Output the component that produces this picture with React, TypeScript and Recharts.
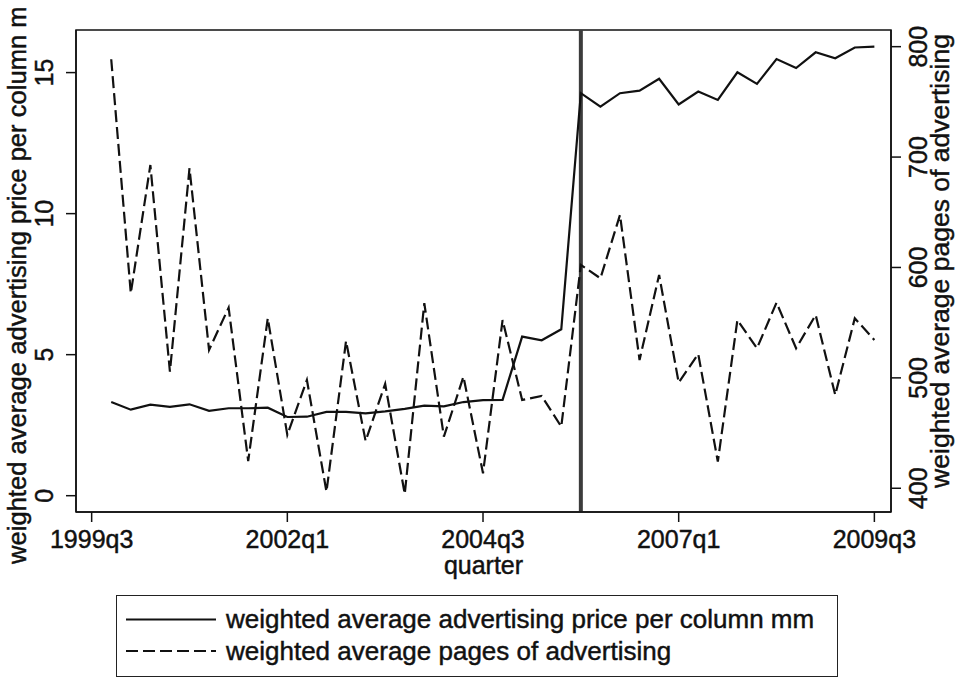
import React from 'react';
import { LineChart, Line, XAxis, YAxis, ReferenceLine, ReferenceArea, Legend, Label } from 'recharts';

const quarters = [
  '1999q4',
  '2000q1', '2000q2', '2000q3', '2000q4',
  '2001q1', '2001q2', '2001q3', '2001q4',
  '2002q1', '2002q2', '2002q3', '2002q4',
  '2003q1', '2003q2', '2003q3', '2003q4',
  '2004q1', '2004q2', '2004q3', '2004q4',
  '2005q1', '2005q2', '2005q3', '2005q4',
  '2006q1', '2006q2', '2006q3', '2006q4',
  '2007q1', '2007q2', '2007q3', '2007q4',
  '2008q1', '2008q2', '2008q3', '2008q4',
  '2009q1', '2009q2', '2009q3',
];

const priceValues = [
  3.32, 3.05, 3.23, 3.15, 3.24, 3.01, 3.1, 3.1, 3.12, 2.79,
  2.8, 2.97, 2.97, 2.92, 2.99, 3.08, 3.19, 3.17, 3.32, 3.39,
  3.4, 5.64, 5.51, 5.9, 14.27, 13.79, 14.27, 14.36, 14.78, 13.87,
  14.33, 14.03, 15.01, 14.6, 15.48, 15.16, 15.72, 15.51, 15.89, 15.92,
];

const pagesValues = [
  788.6, 576.6, 692.8, 505.6, 689.9, 525.3, 563.6, 424.7, 554.0, 448.3,
  498.1, 396.9, 533.4, 442.8, 494.5, 394.8, 567.6, 446.7, 501.1, 413.6,
  552.4, 480.0, 483.6, 455.8, 602.3, 590.2, 647.6, 516.2, 593.2, 495.7,
  521.6, 424.1, 552.4, 526.8, 568.1, 526.8, 557.0, 484.5, 554.0, 534.3,
];

const xTickLabels = ['1999q3', '2002q1', '2004q3', '2007q1', '2009q3'];
const leftTicks = [0, 5, 10, 15];
const rightTicks = [400, 500, 600, 700, 800];
const breakQuarter = '2005q4';

const priceName = 'weighted average advertising price per column mm';
const pagesName = 'weighted average pages of advertising';
// the left axis title as it is visible in the reference (clipped at the top edge)
const leftTitleVisible = 'weighted average advertising price per column m';

const qIndex = (s: string) => {
  const y = parseInt(s.slice(0, 4), 10);
  const q = parseInt(s.slice(5), 10);
  return (y - 1999) * 4 + q - 3;
};

const data = quarters.map((q, i) => ({
  t: qIndex(q),
  label: q,
  price: priceValues[i],
  pages: pagesValues[i],
}));

const xTicks = xTickLabels.map(qIndex);
const labelByIndex: Record<number, string> = {};
xTickLabels.forEach((l) => { labelByIndex[qIndex(l)] = l; });

const FONT = '"Liberation Sans", Arial, Helvetica, sans-serif';
const INK = '#111';
const TXT = { fontFamily: FONT, fill: INK, stroke: INK, strokeWidth: 0.45 };

const XTick = (props: any) => {
  const { x, y, payload } = props;
  return (
    <text x={x} y={y + 24} textAnchor="middle" fontSize={25} {...TXT}>
      {labelByIndex[payload.value] ?? payload.value}
    </text>
  );
};

const LeftTick = (props: any) => {
  const { x, y, payload } = props;
  const bx = x - 11;
  return (
    <text x={bx} y={y} transform={`rotate(-90, ${bx}, ${y})`} textAnchor="middle" fontSize={25} {...TXT}>
      {payload.value}
    </text>
  );
};

const RightTick = (props: any) => {
  const { x, y, payload } = props;
  const bx = x + 24;
  return (
    <text x={bx} y={y} transform={`rotate(-90, ${bx}, ${y})`} textAnchor="middle" fontSize={25} {...TXT}>
      {payload.value}
    </text>
  );
};

const XTitle = (props: any) => {
  const vb = props.viewBox || {};
  const cx = vb.x + vb.width / 2;
  return (
    <text x={cx} y={vb.y + 62} textAnchor="middle" fontSize={25} {...TXT}>
      quarter
    </text>
  );
};

const LeftTitle = (props: any) => {
  const vb = props.viewBox || {};
  const bx = vb.x + 26;
  const sy = vb.y + vb.height + 52;
  return (
    <text x={bx} y={sy} transform={`rotate(-90, ${bx}, ${sy})`} textAnchor="start" fontSize={25.6} {...TXT}>
      {leftTitleVisible}
    </text>
  );
};

const RightTitle = (props: any) => {
  const vb = props.viewBox || {};
  const bx = vb.x + 58;
  const cy = vb.y + vb.height / 2 - 10;
  return (
    <text x={bx} y={cy} transform={`rotate(-90, ${bx}, ${cy})`} textAnchor="middle" fontSize={26.5} {...TXT}>
      {pagesName}
    </text>
  );
};

const LegendBox = (props: any) => {
  const payload = props.payload || [];
  return (
    <div style={{ width: 722, height: 82, border: '1px solid #222', boxSizing: 'border-box', background: '#fff' }}>
      <svg width={720} height={80} style={{ display: 'block' }}>
        {payload.map((p: any, i: number) => {
          const cy = 23.5 + i * 31.5;
          const dash = p.payload && p.payload.strokeDasharray;
          return (
            <g key={i}>
              <line x1={9} x2={99} y1={cy} y2={cy} stroke={INK} strokeWidth={2} strokeDasharray={dash} />
              <text x={109} y={cy + 8.5} fontSize={26} {...TXT}>
                {p.value}
              </text>
            </g>
          );
        })}
      </svg>
    </div>
  );
};

export default function App() {
  return (
    <div style={{ position: 'absolute', left: 0, top: 0, width: 958, height: 680, background: '#fff' }}>
      <LineChart
        width={958}
        height={680}
        data={data}
        margin={{ top: 30, right: 0, left: 0, bottom: 108 }}
        style={{ background: '#fff' }}
      >
        <XAxis
          dataKey="t"
          type="number"
          domain={[-0.8, 40.85]}
          allowDataOverflow
          ticks={xTicks}
          tick={<XTick />}
          tickSize={10}
          tickMargin={2}
          height={60}
          axisLine={{ stroke: INK, strokeWidth: 1.5 }}
          tickLine={{ stroke: INK, strokeWidth: 1.5 }}
        >
          <Label content={<XTitle />} />
        </XAxis>
        <YAxis
          yAxisId="left"
          orientation="left"
          type="number"
          domain={[-0.578, 16.51]}
          allowDataOverflow
          ticks={leftTicks}
          tick={<LeftTick />}
          tickSize={10}
          tickMargin={2}
          width={76}
          axisLine={{ stroke: INK, strokeWidth: 1.5 }}
          tickLine={{ stroke: INK, strokeWidth: 1.5 }}
        >
          <Label content={<LeftTitle />} />
        </YAxis>
        <YAxis
          yAxisId="right"
          orientation="right"
          type="number"
          domain={[378.5, 815.1]}
          allowDataOverflow
          ticks={rightTicks}
          tick={<RightTick />}
          tickSize={10}
          tickMargin={2}
          width={67}
          axisLine={{ stroke: INK, strokeWidth: 1.5 }}
          tickLine={{ stroke: INK, strokeWidth: 1.5 }}
        >
          <Label content={<RightTitle />} />
        </YAxis>
        <ReferenceArea
          yAxisId="left"
          x1={-0.8}
          x2={40.85}
          y1={-0.578}
          y2={16.51}
          fill="none"
          fillOpacity={0}
          stroke={INK}
          strokeWidth={1.5}
          ifOverflow="visible"
        />
        <ReferenceLine
          yAxisId="left"
          x={qIndex(breakQuarter)}
          stroke="#3c3c3c"
          strokeWidth={4}
        />
        <Line
          yAxisId="right"
          type="linear"
          dataKey="pages"
          name={pagesName}
          stroke={INK}
          strokeWidth={2.2}
          strokeDasharray="12 5"
          dot={false}
          activeDot={false}
          isAnimationActive={false}
          legendType="line"
        />
        <Line
          yAxisId="left"
          type="linear"
          dataKey="price"
          name={priceName}
          stroke={INK}
          strokeWidth={2.2}
          dot={false}
          activeDot={false}
          isAnimationActive={false}
          legendType="line"
        />
        <Legend
          layout="horizontal"
          verticalAlign="middle"
          align="center"
          content={<LegendBox />}
          itemSorter={(item: any) => (item.dataKey === 'price' ? 0 : 1)}
          wrapperStyle={{ position: 'absolute', left: 116, top: 595, width: 722, height: 82 }}
        />
      </LineChart>
    </div>
  );
}
